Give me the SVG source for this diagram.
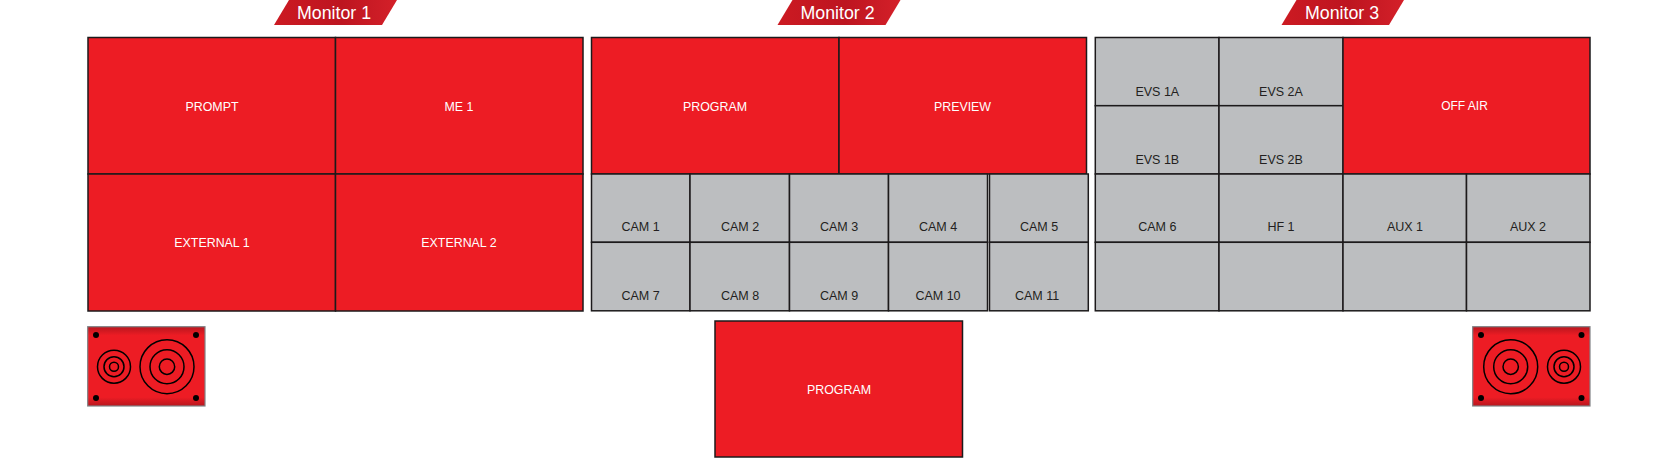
<svg xmlns="http://www.w3.org/2000/svg" width="1680" height="458" viewBox="0 0 1680 458">
<defs>
<linearGradient id="ban" x1="0" y1="0" x2="1" y2="0"><stop offset="0" stop-color="#cc1a22"/><stop offset="0.55" stop-color="#bd1520"/><stop offset="1" stop-color="#d42029"/></linearGradient>
<linearGradient id="sp" x1="0" y1="0" x2="0" y2="1"><stop offset="0" stop-color="#b8161e"/><stop offset="0.11" stop-color="#ed1c24"/><stop offset="0.89" stop-color="#ed1c24"/><stop offset="1" stop-color="#b8161e"/></linearGradient>
</defs>
<style>
text{font-family:"Liberation Sans",Arial,sans-serif;text-anchor:middle}
.r{fill:#ed1c24;stroke:#1c1a1b;stroke-width:1.5}
.g{fill:#bcbec0;stroke:#1c1a1b;stroke-width:1.5}
.w{fill:#fff;font-size:12.4px}
.k{fill:#231f20;font-size:12.500px}
.b{fill:url(#ban)}
.m{fill:#fff;font-size:17.800px}
.sb{fill:url(#sp);stroke:#808285;stroke-width:1.2}
.c{fill:none;stroke:#000;stroke-width:1.5}
.d{fill:#000}
</style>
<g id="monitor-1-label"><polygon class="b" points="289,0 397,0 382,25 274,25"/><text class="m" x="334" y="19">Monitor 1</text></g>
<g id="monitor-2-label"><polygon class="b" points="792.500,0 900.500,0 885.500,25 777.500,25"/><text class="m" x="837.500" y="19">Monitor 2</text></g>
<g id="monitor-3-label"><polygon class="b" points="1296.500,0 1404,0 1389,25 1281.500,25"/><text class="m" x="1342" y="19">Monitor 3</text></g>

<g id="prompt"><rect class="r" x="88" y="37.500" width="247.500" height="136.500"/><text class="w" x="212" y="111">PROMPT</text></g>
<g id="me-1"><rect class="r" x="335.500" y="37.500" width="247.500" height="136.500"/><text class="w" x="459" y="111">ME 1</text></g>
<g id="external-1"><rect class="r" x="88" y="174" width="247.500" height="137"/><text class="w" x="212" y="247">EXTERNAL 1</text></g>
<g id="external-2"><rect class="r" x="335.500" y="174" width="247.500" height="137"/><text class="w" x="459" y="247">EXTERNAL 2</text></g>

<g id="program-top"><rect class="r" x="591.500" y="37.500" width="247.500" height="136.500"/><text class="w" x="715" y="111">PROGRAM</text></g>
<g id="preview"><rect class="r" x="839" y="37.500" width="247.500" height="136.500"/><text class="w" x="962.500" y="111">PREVIEW</text></g>

<g id="cam-1"><rect class="g" x="591.500" y="174" width="98.500" height="68.300"/><text class="k" x="640.500" y="231">CAM 1</text></g>
<g id="cam-2"><rect class="g" x="690" y="174" width="99.500" height="68.300"/><text class="k" x="740" y="231">CAM 2</text></g>
<g id="cam-3"><rect class="g" x="789.500" y="174" width="99" height="68.300"/><text class="k" x="839" y="231">CAM 3</text></g>
<g id="cam-4"><rect class="g" x="888.500" y="174" width="99" height="68.300"/><text class="k" x="938" y="231">CAM 4</text></g>
<g id="cam-5"><rect class="g" x="989.500" y="174" width="98.800" height="68.300"/><text class="k" x="1039" y="231">CAM 5</text></g>
<g id="cam-7"><rect class="g" x="591.500" y="242.300" width="98.500" height="68.500"/><text class="k" x="640.500" y="300">CAM 7</text></g>
<g id="cam-8"><rect class="g" x="690" y="242.300" width="99.500" height="68.500"/><text class="k" x="740" y="300">CAM 8</text></g>
<g id="cam-9"><rect class="g" x="789.500" y="242.300" width="99" height="68.500"/><text class="k" x="839" y="300">CAM 9</text></g>
<g id="cam-10"><rect class="g" x="888.500" y="242.300" width="99" height="68.500"/><text class="k" x="938" y="300">CAM 10</text></g>
<g id="cam-11"><rect class="g" x="989.500" y="242.300" width="98.800" height="68.500"/><text class="k" x="1037" y="300">CAM 11</text></g>

<g id="evs-1a"><rect class="g" x="1095.300" y="37.500" width="123.700" height="68.200"/><text class="k" x="1157.300" y="95.500">EVS 1A</text></g>
<g id="evs-2a"><rect class="g" x="1219" y="37.500" width="124" height="68.200"/><text class="k" x="1281" y="95.500">EVS 2A</text></g>
<g id="evs-1b"><rect class="g" x="1095.300" y="105.700" width="123.700" height="68.300"/><text class="k" x="1157.300" y="164">EVS 1B</text></g>
<g id="evs-2b"><rect class="g" x="1219" y="105.700" width="124" height="68.300"/><text class="k" x="1281" y="164">EVS 2B</text></g>
<g id="off-air"><rect class="r" x="1343" y="37.500" width="247" height="136.500"/><text class="w" style="font-size:12px" x="1464.500" y="110">OFF AIR</text></g>

<g id="cam-6"><rect class="g" x="1095.300" y="174" width="123.700" height="68.300"/><text class="k" x="1157.300" y="231">CAM 6</text></g>
<g id="hf-1"><rect class="g" x="1219" y="174" width="124" height="68.300"/><text class="k" x="1281" y="231">HF 1</text></g>
<g id="aux-1"><rect class="g" x="1343" y="174" width="123.500" height="68.300"/><text class="k" x="1405" y="231">AUX 1</text></g>
<g id="aux-2"><rect class="g" x="1466.500" y="174" width="123.500" height="68.300"/><text class="k" x="1528" y="231">AUX 2</text></g>
<g id="blank-1"><rect class="g" x="1095.300" y="242.300" width="123.700" height="68.500"/></g>
<g id="blank-2"><rect class="g" x="1219" y="242.300" width="124" height="68.500"/></g>
<g id="blank-3"><rect class="g" x="1343" y="242.300" width="123.500" height="68.500"/></g>
<g id="blank-4"><rect class="g" x="1466.500" y="242.300" width="123.500" height="68.500"/></g>

<g id="program-bottom"><rect class="r" x="715" y="321" width="247.500" height="136"/><text class="w" x="839" y="394">PROGRAM</text></g>

<g id="speaker-left"><rect class="sb" x="87.700" y="326.700" width="117.300" height="79.300"/>
<circle class="c" cx="114" cy="366.700" r="16.500"/><circle class="c" cx="114" cy="366.700" r="10"/><circle class="c" cx="114" cy="366.700" r="4.500"/>
<circle class="c" cx="167" cy="366.700" r="27"/><circle class="c" cx="167" cy="366.700" r="17"/><circle class="c" cx="167" cy="366.700" r="7.700"/>
<circle class="d" cx="96" cy="335" r="3"/><circle class="d" cx="196" cy="335" r="3"/><circle class="d" cx="96" cy="398" r="3"/><circle class="d" cx="196" cy="398" r="3"/></g>

<g id="speaker-right"><rect class="sb" x="1472.700" y="326.700" width="117.300" height="79.300"/>
<circle class="c" cx="1510.700" cy="366.700" r="27"/><circle class="c" cx="1510.700" cy="366.700" r="17"/><circle class="c" cx="1510.700" cy="366.700" r="7.700"/>
<circle class="c" cx="1564" cy="366.700" r="16.500"/><circle class="c" cx="1564" cy="366.700" r="10"/><circle class="c" cx="1564" cy="366.700" r="4.500"/>
<circle class="d" cx="1481" cy="335" r="3"/><circle class="d" cx="1581.500" cy="335" r="3"/><circle class="d" cx="1481" cy="398" r="3"/><circle class="d" cx="1581.500" cy="398" r="3"/></g>

<g id="connectors"></g>
</svg>
